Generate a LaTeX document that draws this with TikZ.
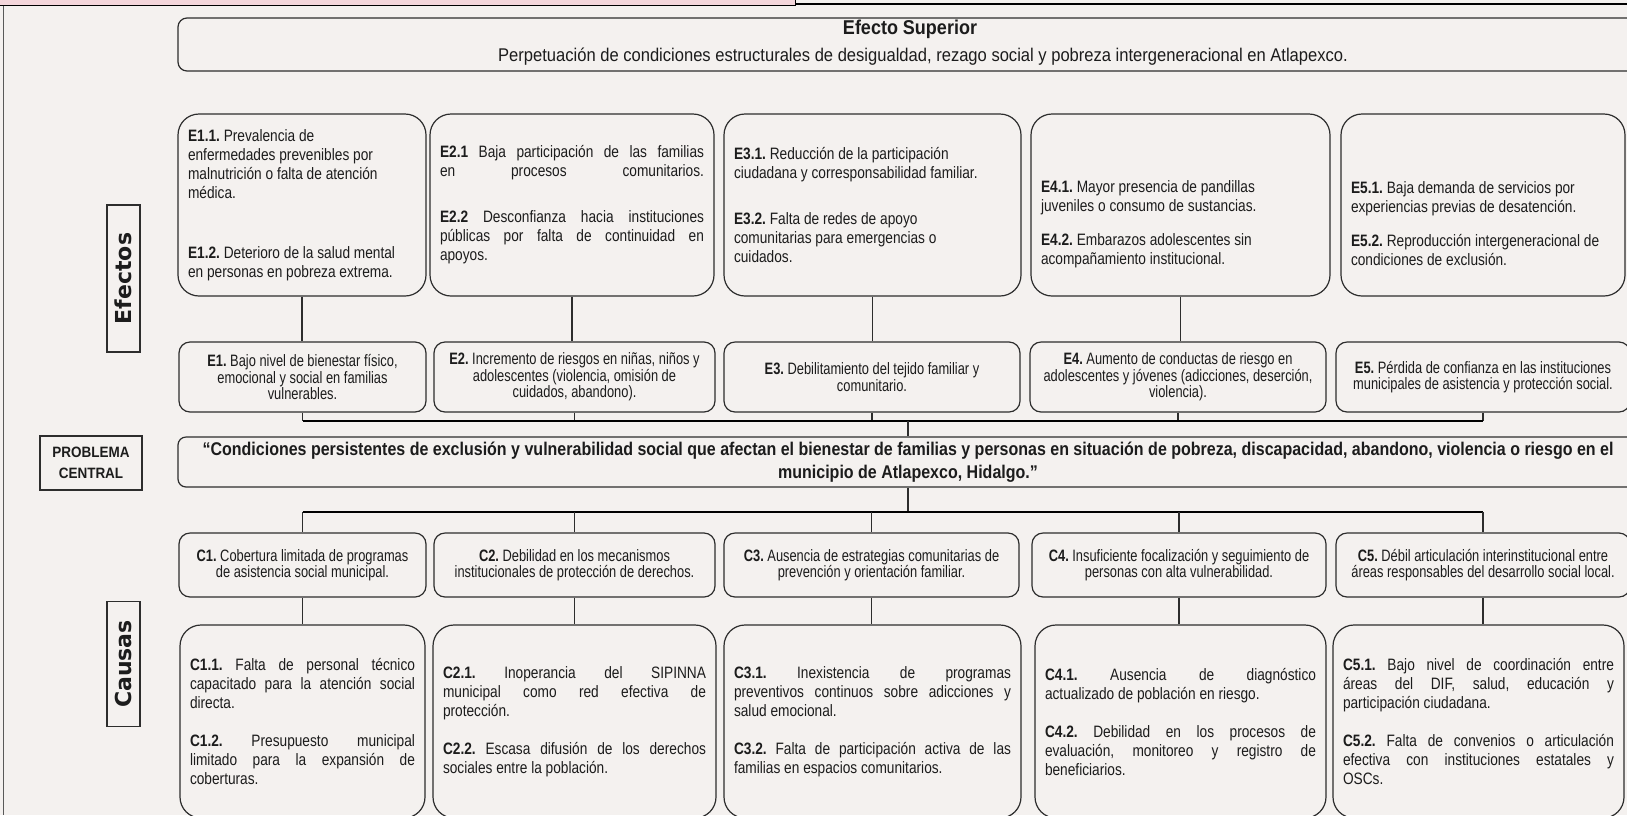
\documentclass[tikz,border=0pt]{standalone}
\usepackage{fontspec}
\setmainfont{Liberation Sans}
\newfontfamily\bodyf{Liberation Sans}[FakeStretch=0.83]
\newfontfamily\condf{Liberation Sans}[FakeStretch=0.78]
\newfontfamily\titf{Liberation Sans}[FakeStretch=0.9]
\newfontfamily\probf{Liberation Sans}[FakeStretch=0.87]
\newfontfamily\labf{DejaVu Sans}
\setlength{\parindent}{0pt}
\newcommand\J[1]{\leavevmode\hbox to\hsize{#1}}
\definecolor{paper}{RGB}{244,241,239}
\definecolor{txt}{RGB}{28,28,28}
\definecolor{boxc}{RGB}{45,45,45}
\definecolor{hdrpink}{RGB}{244,214,219}
\begin{document}
\begin{tikzpicture}[x=1pt,y=-1pt,
 dshape/.style={draw=boxc, line width=1.2pt, rounded corners=21pt, inner sep=0pt},
 dtxt/.style={inner sep=0pt, align=flush left, text=txt, font=\bodyf\frenchspacing\fontsize{16.5}{19}\selectfont},
 dbox/.style={dshape, dtxt},
 sbox/.style={draw=boxc, line width=1.2pt, rounded corners=11pt, inner sep=0pt, align=flush center, text=txt, font=\condf\frenchspacing\fontsize{16.5}{16.5}\selectfont},
 lbox/.style={draw=boxc, line width=1.5pt, inner sep=0pt, text=txt},
 conn/.style={draw=boxc, line width=1.1pt},
 bar/.style={draw=black, line width=2.4pt},
]
\fill[paper] (0,0) rectangle (1627,815);
\useasboundingbox (0,0) rectangle (1627,815);
% header strip
\fill[hdrpink] (0,0) rectangle (795,5);
\draw[black, line width=1.4pt] (0,5.5) -- (795,5.5);
\draw[black, line width=1pt] (795,0) -- (795,5.5);
\draw[black, line width=2pt] (795,3.5) -- (1627,3.5);
\draw[gray!70!black, line width=0.9pt] (3.5,5.5) -- (3.5,815);

% top effect
\node[draw=boxc, line width=1.2pt, rounded corners=9pt, minimum width=1460pt, minimum height=53pt, inner sep=0pt] (sup) at (908,44.5) {};
\node[font=\titf\bfseries\fontsize{20}{22}\selectfont, text=txt] (suptit) at (910,29) {Efecto Superior};
\node[font=\titf\frenchspacing\fontsize{18.4}{20}\selectfont, text=txt] (supsub) at (923,57) {Perpetuación de condiciones estructurales de desigualdad, rezago social y pobreza intergeneracional en Atlapexco.};

% side labels
\node[lbox, rotate=90, minimum width=147pt, minimum height=33pt, font=\labf\bfseries\fontsize{22}{22}\selectfont] (efl) at (123.5,278.5) {Efectos};
\node[lbox, rotate=90, minimum width=125pt, minimum height=33pt, font=\labf\bfseries\fontsize{22}{22}\selectfont] (cal) at (123.5,664) {Causas};
\node[lbox, minimum width=102pt, minimum height=54pt, align=flush center, font=\titf\bfseries\fontsize{15}{21}\selectfont] (pcl) at (91,463) {PROBLEMA\\CENTRAL};

% effect detail boxes
\node[dbox, minimum width=248pt, minimum height=182pt, text width=228pt] (e1) at (302,205) {%
\textbf{E1.1.} Prevalencia de\\
enfermedades prevenibles por\\
malnutrición o falta de atención\\
médica.\\[41pt]
\textbf{E1.2.} Deterioro de la salud mental\\
en personas en pobreza extrema.};
\node[dbox, minimum width=284pt, minimum height=182pt, text width=264pt] (e2) at (572,205) {%
\J{\textbf{E2.1} Baja participación de las familias}\\
\J{en procesos comunitarios.}\\[27pt]
\J{\textbf{E2.2} Desconfianza hacia instituciones}\\
\J{públicas por falta de continuidad en}\\
apoyos.};
\node[dbox, minimum width=297pt, minimum height=182pt, text width=277pt] (e3) at (872.5,205) {%
\textbf{E3.1.} Reducción de la participación\\
ciudadana y corresponsabilidad familiar.\\[27pt]
\textbf{E3.2.} Falta de redes de apoyo\\
comunitarias para emergencias o\\
cuidados.};
\node[dshape, minimum width=299pt, minimum height=182pt] (e4) at (1180.5,205) {};
\node[dtxt, text width=279pt] (e4t) at (1180.5,224) {%
\textbf{E4.1.} Mayor presencia de pandillas\\
juveniles o consumo de sustancias.\\[15pt]
\textbf{E4.2.} Embarazos adolescentes sin\\
acompañamiento institucional.};
\node[dshape, minimum width=284pt, minimum height=182pt] (e5) at (1483,205) {};
\node[dtxt, text width=264pt] (e5t) at (1483,224) {%
\textbf{E5.1.} Baja demanda de servicios por\\
experiencias previas de desatención.\\[15pt]
\textbf{E5.2.} Reproducción intergeneracional de\\
condiciones de exclusión.};

% effect summary boxes
\node[sbox, minimum width=247pt, minimum height=70pt, text width=241pt] (e1s) at (302.5,377) {\textbf{E1.} Bajo nivel de bienestar físico,\\emocional y social en familias\\vulnerables.};
\node[sbox, minimum width=281pt, minimum height=70pt, text width=275pt] (e2s) at (574.5,377) {\textbf{E2.} Incremento de riesgos en niñas, niños y\\adolescentes (violencia, omisión de\\cuidados, abandono).};
\node[sbox, minimum width=296pt, minimum height=70pt, text width=290pt] (e3s) at (872,377) {\textbf{E3.} Debilitamiento del tejido familiar y\\comunitario.};
\node[sbox, minimum width=296pt, minimum height=70pt, text width=290pt] (e4s) at (1178,377) {\textbf{E4.} Aumento de conductas de riesgo en\\adolescentes y jóvenes (adicciones, deserción,\\violencia).};
\node[sbox, minimum width=294pt, minimum height=70pt, text width=290pt] (e5s) at (1483,377) {\textbf{E5.} Pérdida de confianza en las instituciones\\municipales de asistencia y protección social.};

% central problem
\node[draw=boxc, line width=1.2pt, rounded corners=8pt, minimum width=1460pt, minimum height=50pt, inner sep=0pt, text width=1450pt, align=flush center, text=txt, font=\probf\bfseries\frenchspacing\fontsize{18.4}{23}\selectfont] (prob) at (908,462) {“Condiciones persistentes de exclusión y vulnerabilidad social que afectan el bienestar de familias y personas en situación de pobreza, discapacidad, abandono, violencia o riesgo en el\\municipio de Atlapexco, Hidalgo.”};

% cause summary boxes
\node[sbox, minimum width=247pt, minimum height=64pt, text width=241pt] (c1s) at (302.5,565) {\textbf{C1.} Cobertura limitada de programas\\de asistencia social municipal.};
\node[sbox, minimum width=281pt, minimum height=64pt, text width=275pt] (c2s) at (574.5,565) {\textbf{C2.} Debilidad en los mecanismos\\institucionales de protección de derechos.};
\node[sbox, minimum width=295pt, minimum height=64pt, text width=289pt] (c3s) at (871.5,565) {\textbf{C3.} Ausencia de estrategias comunitarias de\\prevención y orientación familiar.};
\node[sbox, minimum width=294pt, minimum height=64pt, text width=288pt] (c4s) at (1179,565) {\textbf{C4.} Insuficiente focalización y seguimiento de\\personas con alta vulnerabilidad.};
\node[sbox, minimum width=294pt, minimum height=64pt, text width=290pt] (c5s) at (1483,565) {\textbf{C5.} Débil articulación interinstitucional entre\\áreas responsables del desarrollo social local.};

% cause detail boxes
\node[dbox, minimum width=245pt, minimum height=193pt, text width=225pt] (c1) at (302.5,721.5) {%
\J{\textbf{C1.1.} Falta de personal técnico}\\
\J{capacitado para la atención social}\\
directa.\\[19pt]
\J{\textbf{C1.2.} Presupuesto municipal}\\
\J{limitado para la expansión de}\\
coberturas.};
\node[dbox, minimum width=283pt, minimum height=193pt, text width=263pt] (c2) at (574.5,721.5) {%
\J{\textbf{C2.1.} Inoperancia del SIPINNA}\\
\J{municipal como red efectiva de}\\
protección.\\[19pt]
\J{\textbf{C2.2.} Escasa difusión de los derechos}\\
sociales entre la población.};
\node[dbox, minimum width=297pt, minimum height=193pt, text width=277pt] (c3) at (872.5,721.5) {%
\J{\textbf{C3.1.} Inexistencia de programas}\\
\J{preventivos continuos sobre adicciones y}\\
salud emocional.\\[19pt]
\J{\textbf{C3.2.} Falta de participación activa de las}\\
familias en espacios comunitarios.};
\node[dbox, minimum width=291pt, minimum height=193pt, text width=271pt] (c4) at (1180.5,721.5) {%
\J{\textbf{C4.1.} Ausencia de diagnóstico}\\
actualizado de población en riesgo.\\[19pt]
\J{\textbf{C4.2.} Debilidad en los procesos de}\\
\J{evaluación, monitoreo y registro de}\\
beneficiarios.};
\node[dbox, minimum width=291pt, minimum height=193pt, text width=271pt] (c5) at (1478.5,721.5) {%
\J{\textbf{C5.1.} Bajo nivel de coordinación entre}\\
\J{áreas del DIF, salud, educación y}\\
participación ciudadana.\\[19pt]
\J{\textbf{C5.2.} Falta de convenios o articulación}\\
\J{efectiva con instituciones estatales y}\\
OSCs.};

% connectors: effects
\foreach \n in {e1,e2,e3,e4}
  \draw[conn] (\n.south) -- (\n.south |- \n s.north);
\coordinate (eb) at (908,421);
\foreach \n in {e1s,e2s,e3s,e4s,e5s}
  \draw[conn] (\n.south) -- (\n.south |- eb);
\draw[bar] (e1s.south |- eb) -- (e5s.south |- eb);
\draw[conn] (eb) -- (eb |- prob.north);
% connectors: causes
\coordinate (cb) at (908,512);
\draw[conn] (cb |- prob.south) -- (cb);
\draw[bar] (c1s.north |- cb) -- (c5s.north |- cb);
\foreach \n in {c1s,c2s,c3s,c4s,c5s}
  \draw[conn] (\n.north |- cb) -- (\n.north);
\foreach \n in {c1,c2,c3,c4,c5}
  \draw[conn] (\n s.south) -- (\n s.south |- \n.north);
\end{tikzpicture}
\end{document}
